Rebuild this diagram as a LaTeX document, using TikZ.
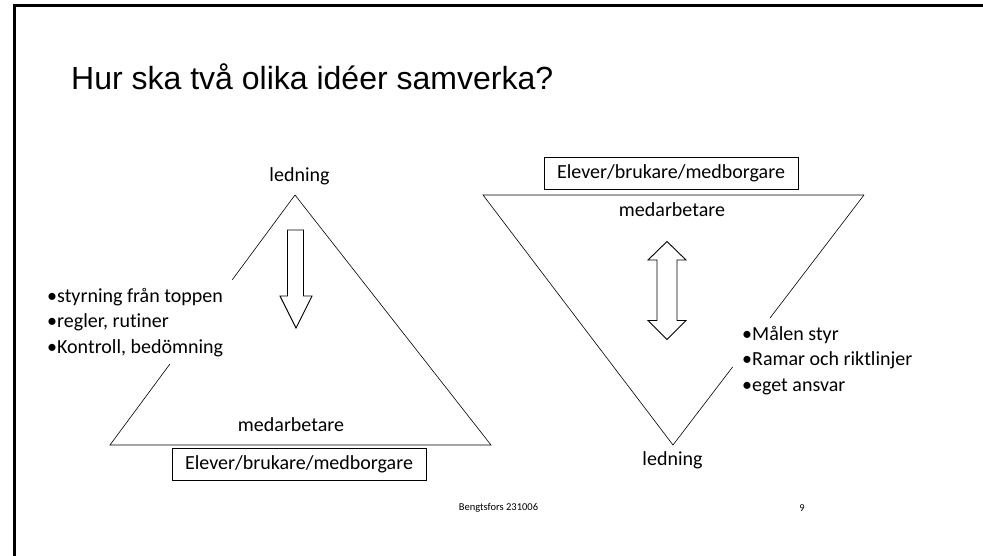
\documentclass[tikz,border=0pt]{standalone}
\usepackage{fontspec}
\setmainfont{Carlito}[Ligatures=NoCommon]
\newfontfamily\titlefont{Liberation Sans}
\usepackage{tikz}
\usetikzlibrary{calc, positioning}

\begin{document}
\begin{tikzpicture}[
  x=1pt, y=-1pt,
  roletext/.style={inner sep=0pt, font=\fontsize{20}{24}\selectfont},
  bullets/.style={inner sep=0pt, align=left, font=\fontsize{20}{25.5}\selectfont},
  groupbox/.style={draw, line width=0.9pt, minimum width=254pt, minimum height=32pt, inner sep=0pt, font=\fontsize{20}{24}\selectfont},
  edgeline/.style={line width=0.6pt},
  block/.style={draw, line width=0.9pt, line join=miter, fill=white},
  slideedge/.style={line width=2.5pt}
]
\useasboundingbox (0,0) rectangle (983,556);

% ---------------------------------------------------
% Slide frame and title
% ---------------------------------------------------
\draw[slideedge] (14.5,560) -- (14.5,5.5) -- (990,5.5);

\node[anchor=base west, inner sep=0pt, font=\titlefont\fontsize{32}{38}\selectfont] (title) at (71,90) {Hur ska två olika idéer samverka?};

% ---------------------------------------------------
% 1. Left triangle (top down)
% ---------------------------------------------------
\coordinate (ltop) at (295,195);
\coordinate (lleft) at (110,445);
\coordinate (lright) at (491,445);

\draw[edgeline] (ltop) -- ($(ltop)!0.34!(lleft)$);
\draw[edgeline] ($(ltop)!0.676!(lleft)$) -- (lleft) -- (lright) -- (ltop);

\node[roletext] (lead1) at (299.5,176) {ledning};
\node[roletext] (staff1) at (291,425) {medarbetare};
\node[groupbox] (users1) at (299,464) {Elever/brukare/medborgare};
\node[bullets, anchor=west] (rules1) at (47,322.5) {•styrning från toppen\\•regler, rutiner\\•Kontroll, bedömning};

\draw[block] (287.5,230) -- (303.5,230) -- (303.5,296) -- (312,296) -- (296,328) -- (280,296) -- (287.5,296) -- cycle;

% ---------------------------------------------------
% 2. Right triangle (turned over)
% ---------------------------------------------------
\coordinate (rleft) at (483,195);
\coordinate (rright) at (864,195);
\coordinate (rbot) at (673,445);

\draw[edgeline] (rright) -- ($(rright)!0.492!(rbot)$);
\draw[edgeline] ($(rright)!0.688!(rbot)$) -- (rbot) -- (rleft) -- (rright);

\node[groupbox] (users2) at (671,173.5) {Elever/brukare/medborgare};
\node[roletext] (staff2) at (672,210) {medarbetare};
\node[roletext] (lead2) at (672.5,460) {ledning};
\node[bullets, anchor=west] (goals2) at (742,360.5) {•Målen styr\\•Ramar och riktlinjer\\•eget ansvar};

\draw[block] (667,241.5) -- (686,260) -- (677,260) -- (677,320.5) -- (686,320.5) -- (667,339.5) -- (648,320.5) -- (657,320.5) -- (657,260) -- (648,260) -- cycle;

% ---------------------------------------------------
% Footer
% ---------------------------------------------------
\node[inner sep=0pt, font=\fontsize{10.5}{12}\selectfont] (place) at (498.5,508) {Bengtsfors 231006};
\node[inner sep=0pt, font=\fontsize{10.5}{12}\selectfont] (page) at (802,508) {9};

\end{tikzpicture}
\end{document}
